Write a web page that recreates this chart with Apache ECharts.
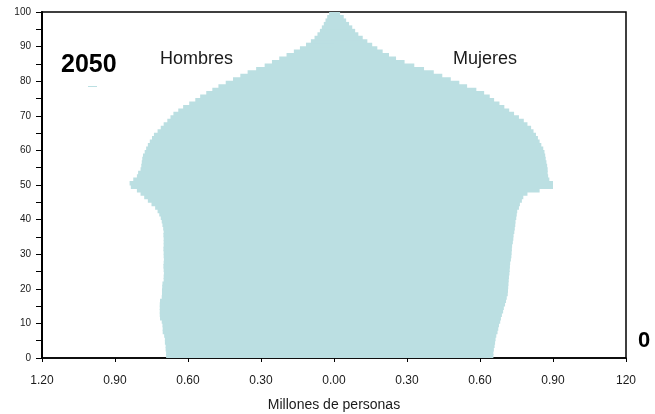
<!DOCTYPE html>
<html>
<head>
<meta charset="utf-8">
<script src="https://cdn.jsdelivr.net/npm/echarts@6/dist/echarts.min.js"></script>
<style>
html,body{margin:0;padding:0;background:#fff;}
#chart{width:655px;height:414px;}
</style>
</head>
<body>
<div id="chart"></div>
<script>
// Ages 0..99 (single years)
const ages = Array.from({length: 100}, (_, i) => String(i));

// Millions of persons, men (shown to the left)
const hombres = [
  0.690,0.690,0.692,0.692,0.695,0.695,0.698,0.704,0.704,0.705,
  0.708,0.715,0.716,0.716,0.716,0.716,0.715,0.708,0.707,0.707,
  0.706,0.705,0.700,0.700,0.699,0.700,0.701,0.700,0.699,0.700,
  0.700,0.701,0.700,0.700,0.700,0.701,0.700,0.702,0.705,0.708,
  0.712,0.718,0.725,0.735,0.750,0.765,0.780,0.795,0.810,0.835,
  0.840,0.825,0.810,0.805,0.795,0.792,0.790,0.788,0.785,0.778,
  0.772,0.765,0.757,0.748,0.740,0.725,0.712,0.700,0.685,0.672,
  0.660,0.640,0.620,0.595,0.570,0.550,0.525,0.500,0.475,0.445,
  0.415,0.385,0.355,0.320,0.285,0.255,0.225,0.195,0.165,0.140,
  0.115,0.095,0.080,0.068,0.058,0.050,0.042,0.035,0.028,0.020
];

// Millions of persons, women (shown to the right)
const mujeres = [
  0.655,0.655,0.657,0.660,0.662,0.664,0.667,0.672,0.675,0.678,
  0.683,0.686,0.690,0.695,0.698,0.703,0.707,0.710,0.714,0.715,
  0.716,0.717,0.718,0.719,0.721,0.722,0.723,0.724,0.727,0.729,
  0.730,0.731,0.732,0.735,0.737,0.738,0.741,0.743,0.745,0.746,
  0.749,0.751,0.753,0.760,0.764,0.772,0.778,0.795,0.845,0.900,
  0.900,0.885,0.880,0.878,0.878,0.876,0.873,0.870,0.868,0.865,
  0.860,0.852,0.845,0.838,0.830,0.820,0.810,0.795,0.780,0.760,
  0.740,0.720,0.700,0.680,0.658,0.640,0.617,0.585,0.547,0.515,
  0.480,0.445,0.410,0.370,0.330,0.290,0.255,0.226,0.200,0.178,
  0.157,0.137,0.118,0.100,0.087,0.075,0.062,0.050,0.040,0.025
];

const xTickLabels = ['1.20','0.90','0.60','0.30','0.00','0.30','0.60','0.90','120'];
const yTickLabels = ['0','10','20','30','40','50','60','70','80','90','100'];

const chart = echarts.init(document.getElementById('chart'), null, {renderer: 'canvas'});
const barColor = '#bbdfe2';
const txt = '#1a1a1a';

chart.setOption({
  animation: false,
  backgroundColor: '#ffffff',
  grid: {left: 42, right: 29, top: 12, bottom: 56, show: true, borderColor: '#000', borderWidth: 1.5, backgroundColor: 'transparent'},
  xAxis: {
    type: 'value', min: -1.2, max: 1.2, interval: 0.3,
    axisLine: {show: true, lineStyle: {color: '#000', width: 1.5}},
    axisTick: {show: true, inside: false, length: 4, lineStyle: {color: '#000'}},
    splitLine: {show: false},
    axisLabel: {margin: 17, fontSize: 12, color: txt, fontFamily: 'Liberation Sans',
      formatter: (v, i) => xTickLabels[i] !== undefined ? xTickLabels[i] : ''}
  },
  yAxis: [
    {type: 'category', data: ages, show: false, boundaryGap: true},
    {type: 'value', min: 0, max: 100, interval: 5, position: 'left',
      axisLine: {show: true, lineStyle: {color: '#000', width: 2}},
      axisTick: {show: true, length: 6, lineStyle: {color: '#000'}},
      splitLine: {show: false},
      axisLabel: {margin: 11, fontSize: 10, color: txt, fontFamily: '"Liberation Sans"',
        formatter: v => (v % 10 === 0 ? yTickLabels[v / 10] : '')}
    }
  ],
  series: [
    {name: 'Hombres', type: 'bar', stack: 'p', yAxisIndex: 0, barWidth: 4.4,
      itemStyle: {color: barColor}, data: hombres.map(v => -v)},
    {name: 'Mujeres', type: 'bar', stack: 'p', yAxisIndex: 0, barWidth: 4.4,
      itemStyle: {color: barColor}, data: mujeres}
  ],
  graphic: [
    {type: 'text', x: 61, y: 65, style: {text: '2050', font: 'bold 25px "Liberation Sans"', fill: '#000', verticalAlign: 'middle'}},
    {type: 'rect', shape: {x: 88, y: 86, width: 9, height: 1}, style: {fill: barColor}},
    {type: 'text', left: 160, top: 50, style: {text: 'Hombres', font: '18px "Liberation Sans"', fill: txt}},
    {type: 'text', left: 453, top: 50, style: {text: 'Mujeres', font: '18px "Liberation Sans"', fill: txt}},
    {type: 'text', x: 334, y: 405, style: {text: 'Millones de personas', font: '14px "Liberation Sans"', fill: txt, align: 'center', verticalAlign: 'middle'}},
    {type: 'text', x: 638, y: 341, style: {text: '0', font: 'bold 22px "Liberation Sans"', fill: '#000', verticalAlign: 'middle'}}
  ]
});
</script>
</body>
</html>
